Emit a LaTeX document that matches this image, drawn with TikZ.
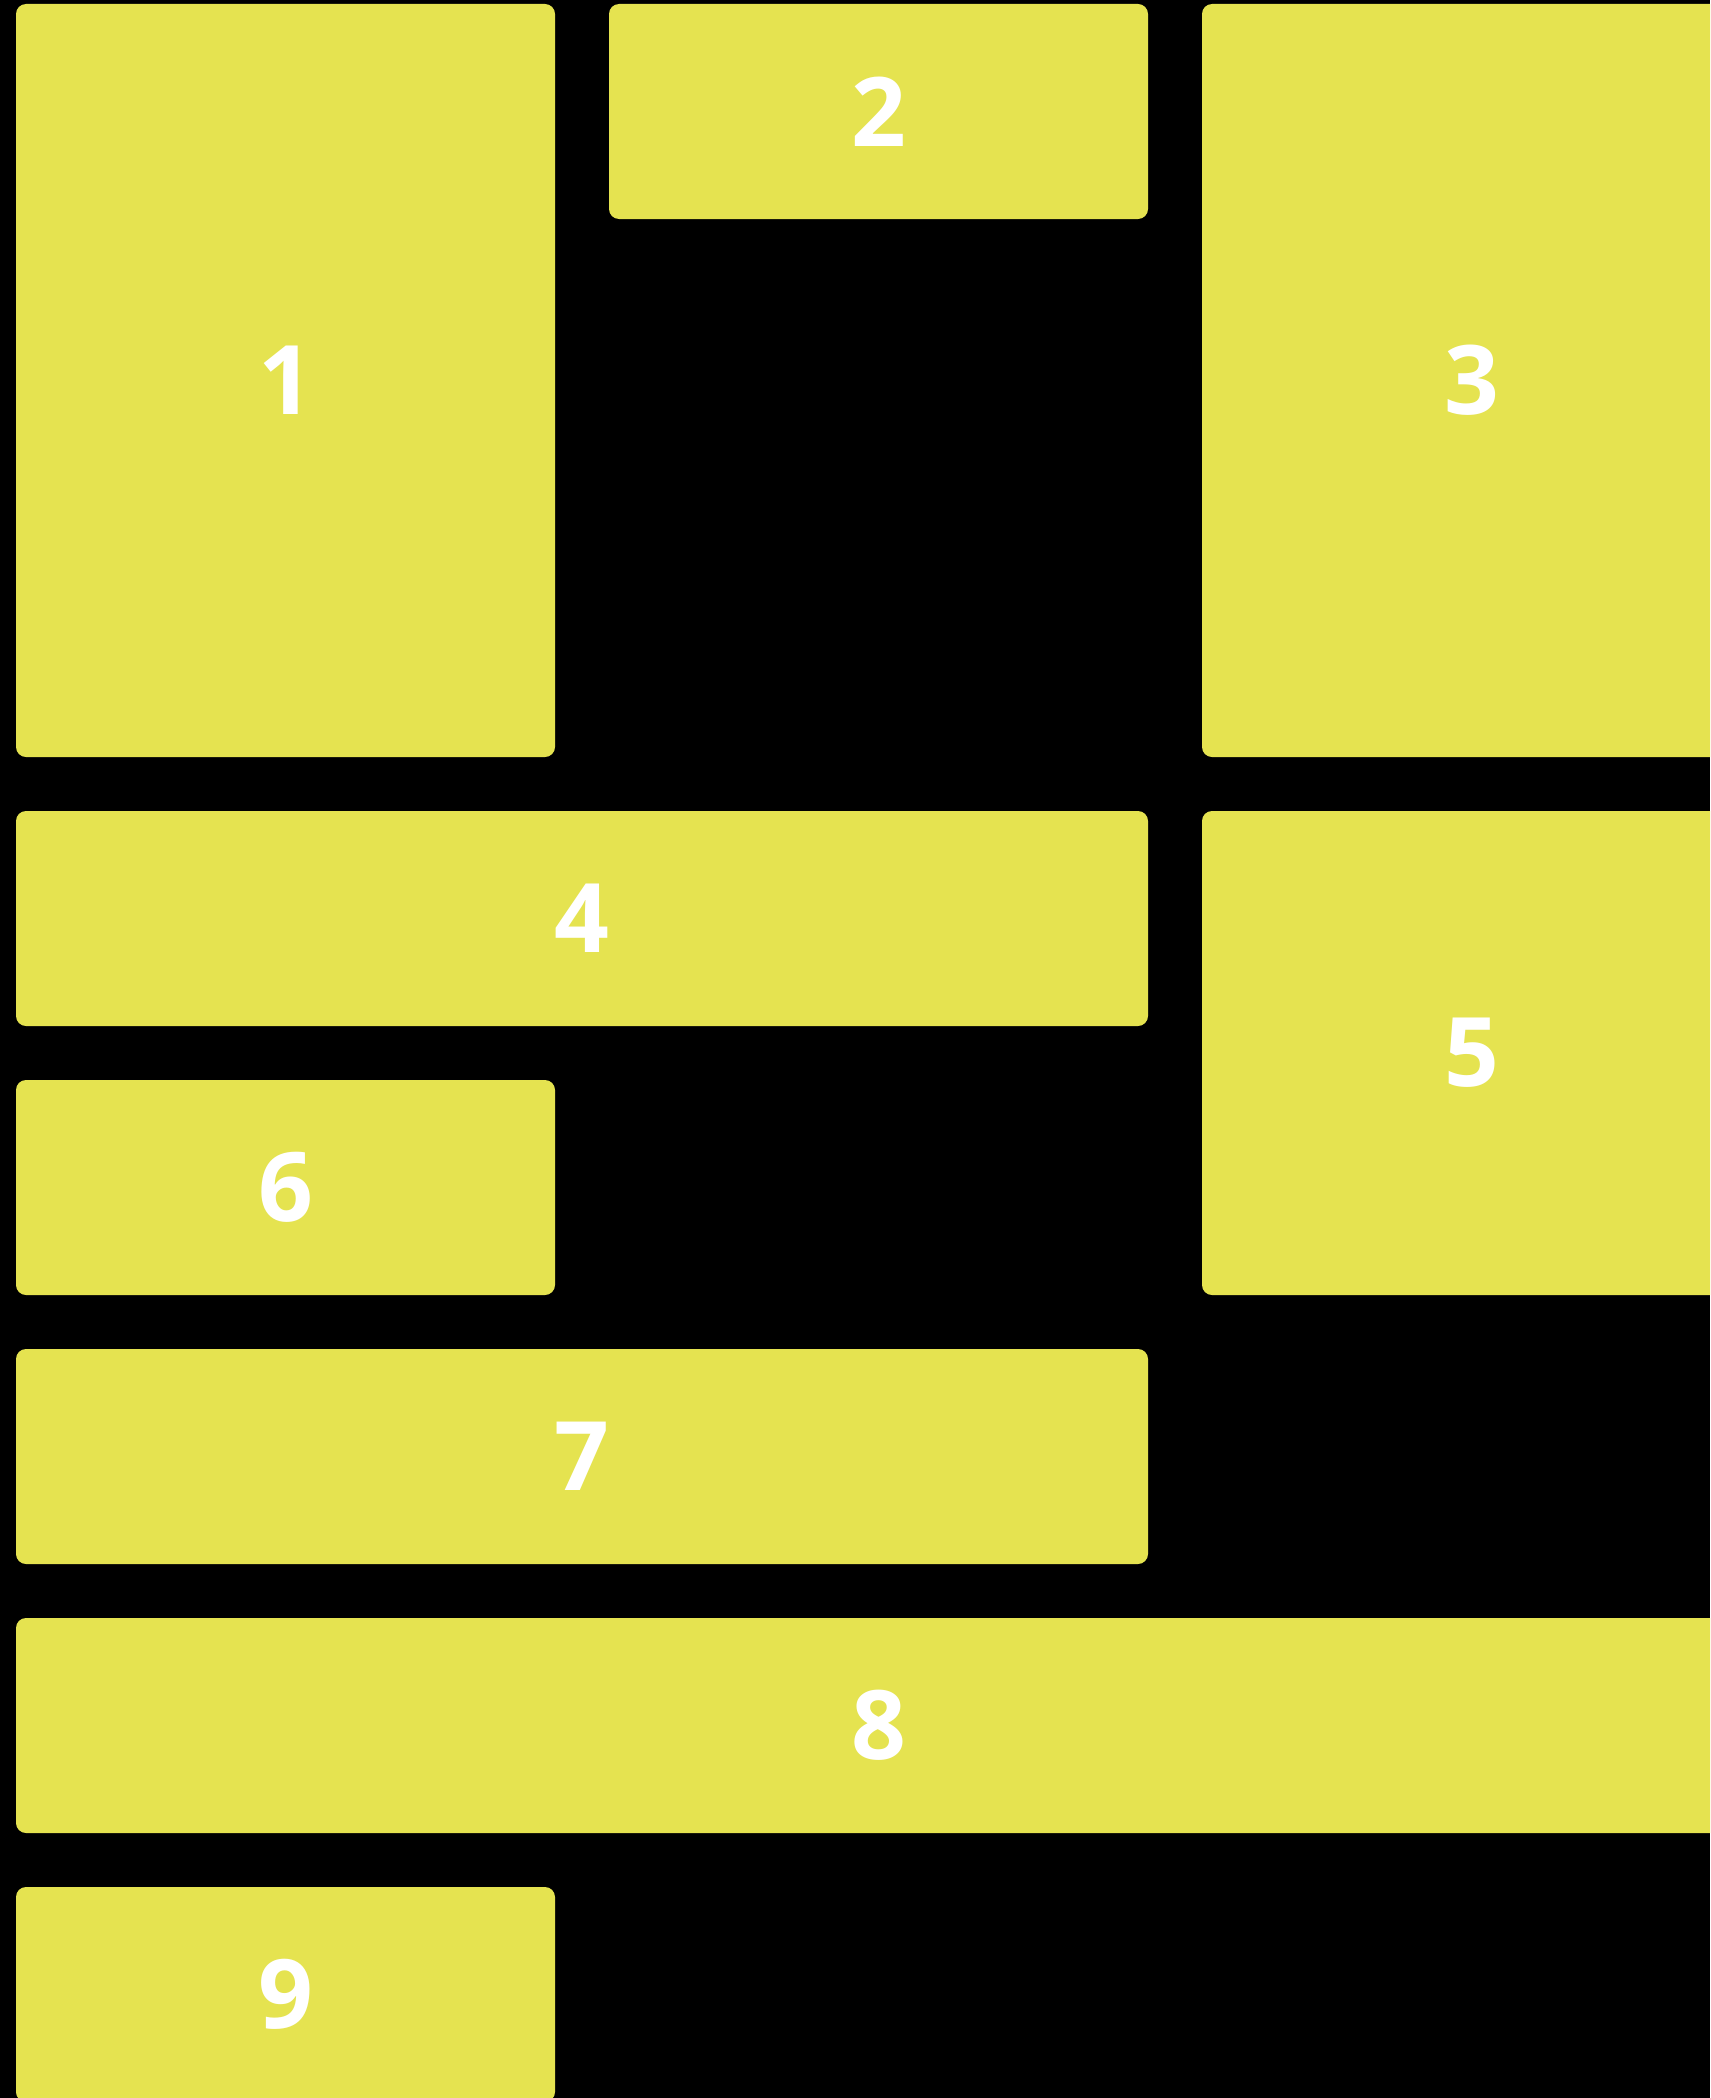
\documentclass[tikz,border=0pt]{standalone}
\usepackage{fontspec}
\setmainfont{Open Sans}
\definecolor{tile}{RGB}{229,227,80}
\begin{document}
\begin{tikzpicture}[x=0.5pt,y=-0.5pt,
  tile/.style={fill=tile,draw=none,rounded corners=5pt,inner sep=0pt,
    anchor=center,text=white,font=\fontsize{48}{48}\selectfont\bfseries},
  w1/.style={minimum width=269.5pt}, w2/.style={minimum width=566pt}, w3/.style={minimum width=862.5pt},
  h1/.style={minimum height=107.5pt}, h2/.style={minimum height=242pt}, h3/.style={minimum height=376.5pt}]
\fill[black] (0,0) rectangle (1710,2098);
\useasboundingbox (0,0) rectangle (1710,2098);
\clip (0,0) rectangle (1710,2098);
\node[tile,w1,h3] (t1) at (285.5,380.5) {1};
\node[tile,w1,h1] (t2) at (878.5,111.5) {2};
\node[tile,w1,h3] (t3) at (1471.5,380.5) {3};
\node[tile,w2,h1] (t4) at (582,918.5) {4};
\node[tile,w1,h2] (t5) at (1471.5,1053) {5};
\node[tile,w1,h1] (t6) at (285.5,1187.5) {6};
\node[tile,w2,h1] (t7) at (582,1456.5) {7};
\node[tile,w3,h1] (t8) at (878.5,1725.5) {8};
\node[tile,w1,h1] (t9) at (285.5,1994.5) {9};
\end{tikzpicture}
\end{document}
